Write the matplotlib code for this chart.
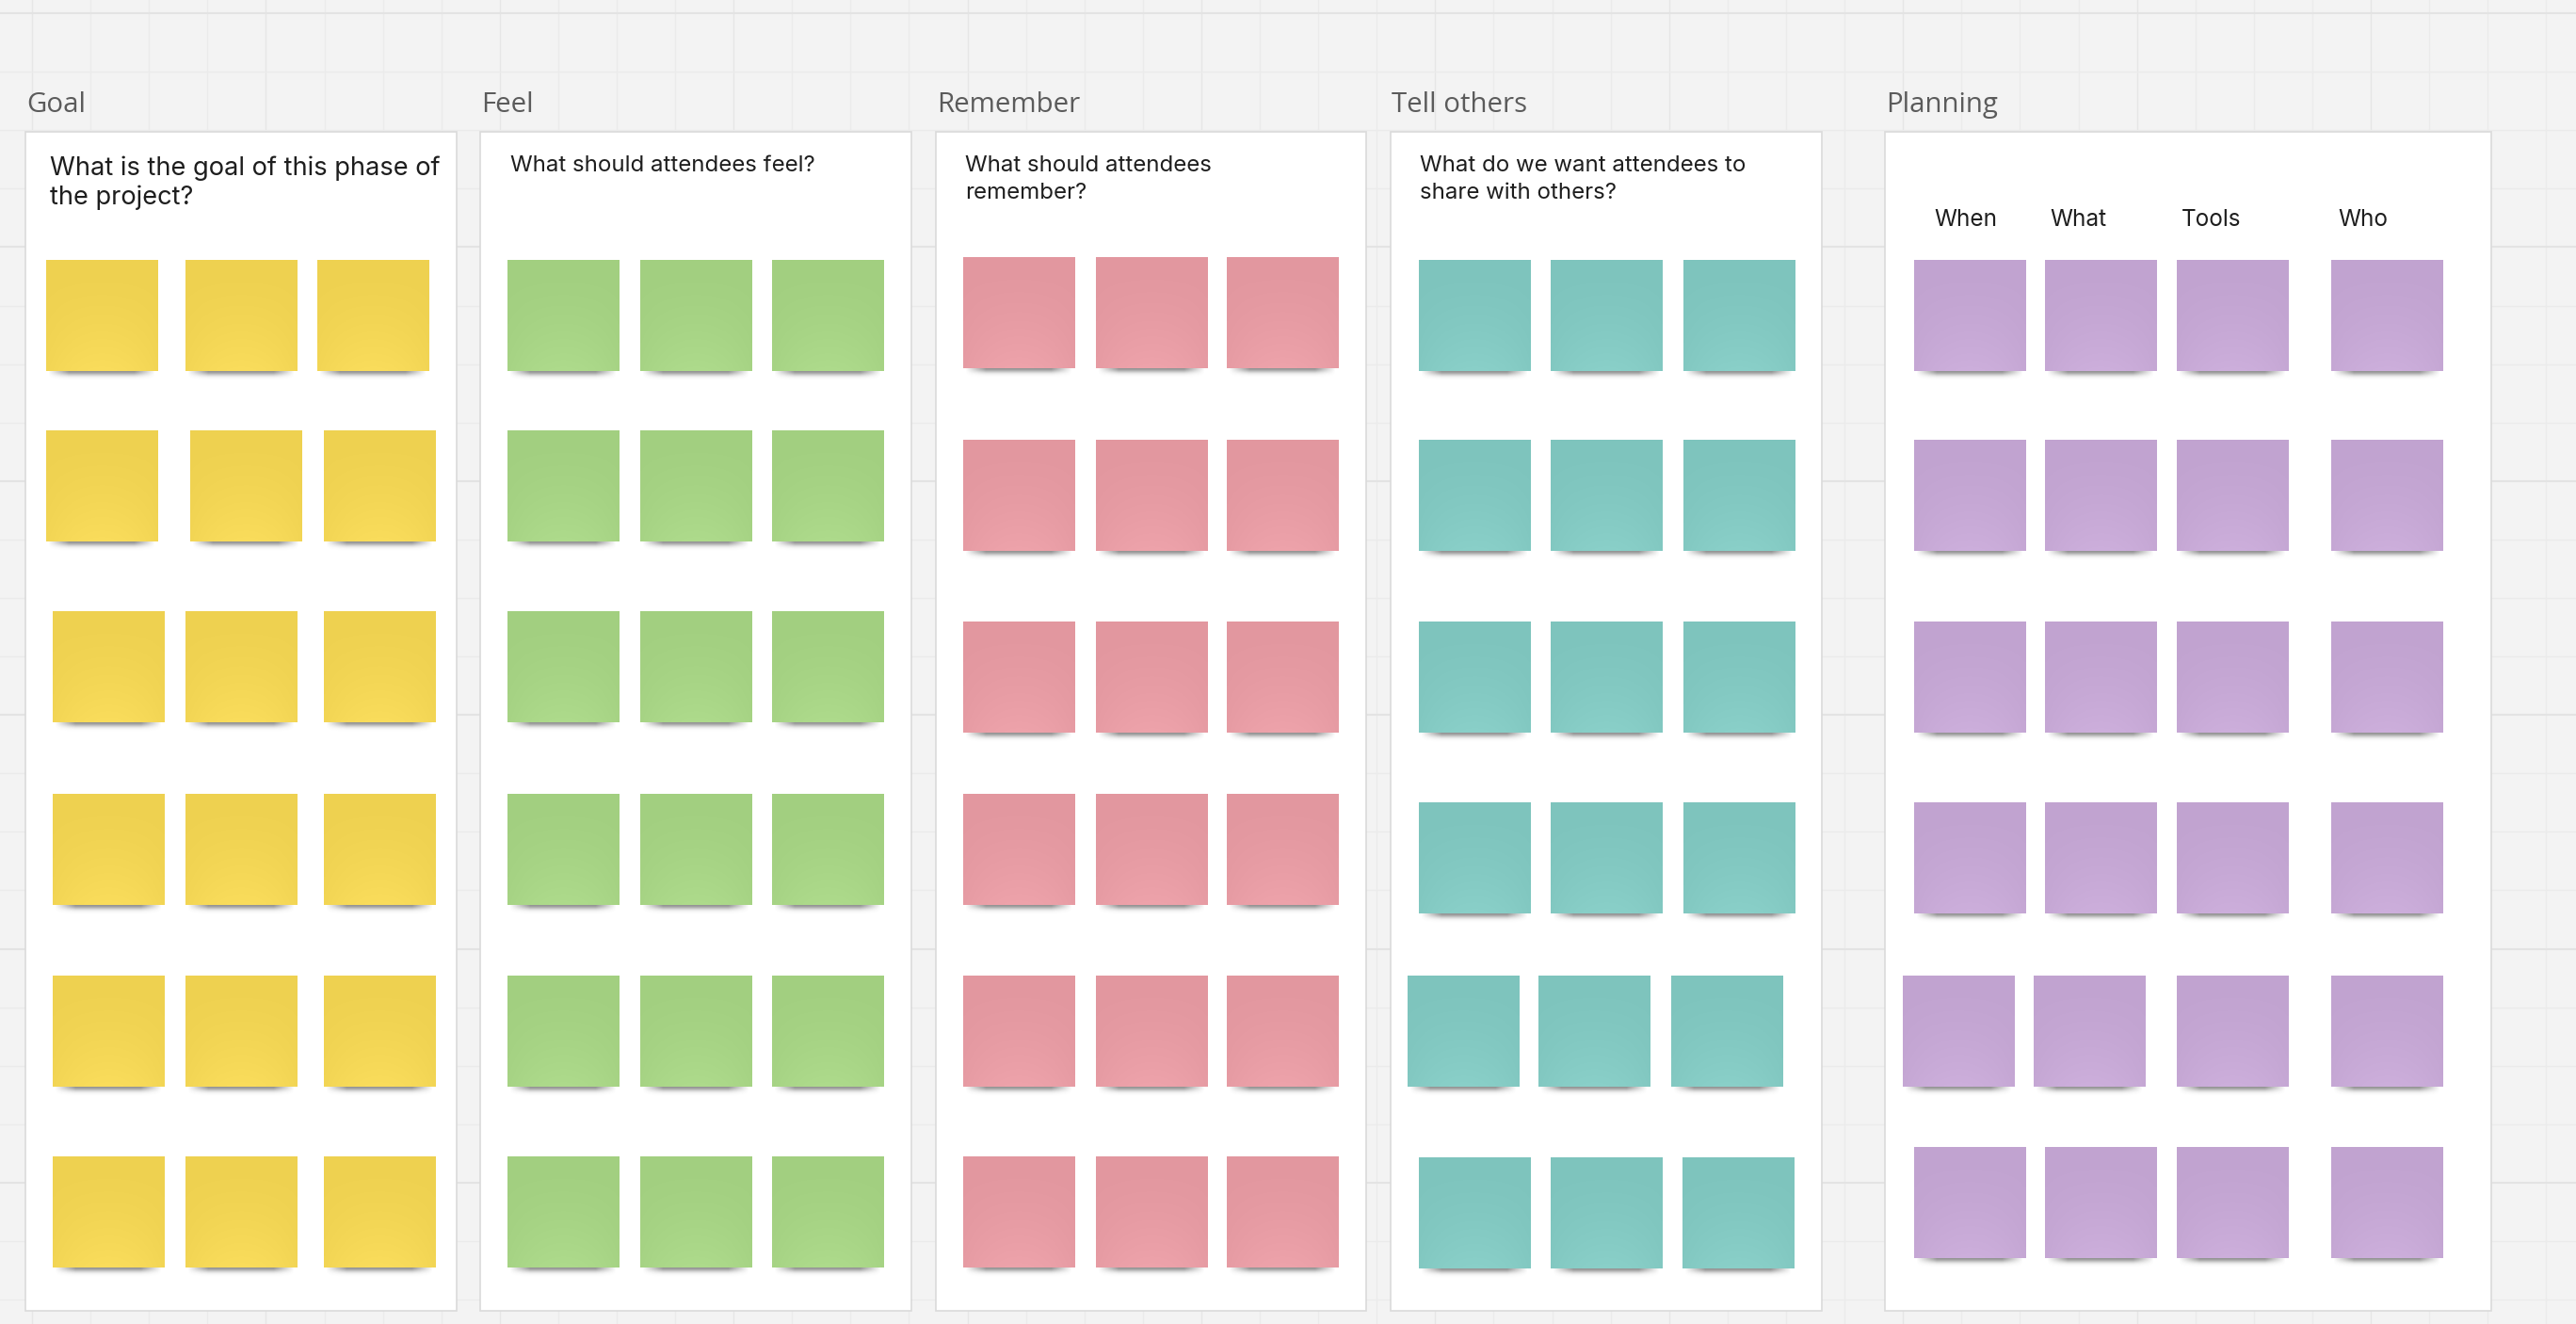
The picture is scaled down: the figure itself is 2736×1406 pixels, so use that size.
import numpy as np
import matplotlib
matplotlib.use("Agg")
import matplotlib.pyplot as plt
from matplotlib.patches import Rectangle
from matplotlib.colors import to_rgb

# ---------------- data ----------------
sections = ["Goal", "Feel", "Remember", "Tell others", "Planning"]
questions = [
    ["What is the goal of this phase of", "the project?"],
    ["What should attendees feel?"],
    ["What should attendees", "remember?"],
    ["What do we want attendees to", "share with others?"],
    [],
]
planning_headers = ["When", "What", "Tools", "Who"]
note_colors = ["#EED150", "#A2CF80", "#E2979F", "#7EC4BD", "#C1A3D0"]
notes_per_row = [3, 3, 3, 3, 4]
rows_per_section = [6, 6, 6, 6, 6]

# ---------------- layout (pixels of the board) ----------------
W, H = 2736, 1406
panel_left = [27, 510, 994, 1477, 2002]
panel_right = [485, 968, 1451, 1935, 2646]
panel_top, panel_bottom = 140, 1392
label_baseline = 119
question_x = [53, 542, 1025, 1508, None]
question_baselines = [[186, 217], [182], [182, 211], [182, 211], []]
question_size = [19.6, 17.3, 17.3, 17.3, 17.3]
header_x = [2054, 2177, 2317, 2483]
header_baseline = 240
question_font = "Inter"

row_tops = [
    [276, 457, 649, 843, 1036, 1228],
    [276, 457, 649, 843, 1036, 1228],
    [273, 467, 660, 843, 1036, 1228],
    [276, 467, 660, 852, 1036, 1229],
    [276, 467, 660, 852, 1036, 1218],
]
col_lefts = [
    [[49, 197, 337], [49, 202, 344], [56, 197, 344], [56, 197, 344], [56, 197, 344], [56, 197, 344]],
    [[539, 680, 820]] * 6,
    [[1023, 1164, 1303]] * 6,
    [[1507, 1647, 1788]] * 4 + [[1495, 1634, 1775], [1507, 1647, 1787]],
    [[2033, 2172, 2312, 2476]] * 4 + [[2021, 2160, 2312, 2476], [2033, 2172, 2312, 2476]],
]
note_w, note_h = 119, 118

# ---------------- figure ----------------
fig = plt.figure(figsize=(W / 100, H / 100), dpi=100)
fig.patch.set_facecolor("#f3f3f3")
ax = fig.add_axes([0, 0, 1, 1])
ax.set_xlim(0, W)
ax.set_ylim(H, 0)
ax.axis("off")
ax.set_facecolor("#f3f3f3")

# board grid
for i, x in enumerate(np.arange(34, W, 62.1)):
    ax.axvline(x, color="#e6e6e6" if i % 4 == 0 else "#ebebeb", lw=1.0, zorder=0)
for i, y in enumerate(np.arange(14, H, 62.1)):
    ax.axhline(y, color="#e3e3e3" if i % 4 == 0 else "#ebebeb", lw=1.0 if i % 4 else 1.5, zorder=0)

# shadow image (RGBA)
sh_h, sh_w = 18, 120
yy = np.arange(sh_h)[:, None]
xx = np.arange(sh_w)[None, :]
alpha_v = np.exp(-((yy - 2.5) / 4.5) ** 2)
alpha_h = np.clip(xx / 22.0, 0, 1) * np.clip((sh_w - 6 - xx) / 22.0, 0, 1)
shadow = np.zeros((sh_h, sh_w, 4))
shadow[..., :3] = 0.30
shadow[..., 3] = 0.6 * alpha_v * alpha_h


def note_image(color):
    base = np.array(to_rgb(color))
    light = np.clip(base + 0.045, 0, 1)
    gy = np.linspace(0, 1, 40)[:, None]
    gx = np.linspace(-1, 1, 40)[None, :]
    t = np.clip(gy ** 1.5 * (1 - 0.6 * gx ** 2), 0, 1)
    img = base[None, None, :] * (1 - t[..., None]) + light[None, None, :] * t[..., None]
    return img


for s, name in enumerate(sections):
    L, R = panel_left[s], panel_right[s]
    # panel
    ax.add_patch(Rectangle((L, panel_top), R - L, panel_bottom - panel_top,
                           facecolor="white", edgecolor="#dadada", lw=1.2, zorder=1))
    # section label
    ax.text(L + 1, label_baseline, name, fontsize=21.2, family="Open Sans",
            color="#5b5b5b", va="baseline", ha="left", zorder=3)
    # question
    for line, yb in zip(questions[s], question_baselines[s]):
        ax.text(question_x[s], yb, line, fontsize=question_size[s], family=question_font,
                color="#1e1e1e", va="baseline", ha="left", zorder=3)
    # notes
    img = note_image(note_colors[s])
    for r in range(rows_per_section[s]):
        top = row_tops[s][r]
        for c in range(notes_per_row[s]):
            left = col_lefts[s][r][c]
            ax.imshow(shadow, extent=(left + 2, left + note_w + 2, top + note_h + sh_h - 3, top + note_h - 3),
                      interpolation="bilinear", zorder=4, aspect="auto")
            ax.imshow(img, extent=(left, left + note_w, top + note_h, top),
                      interpolation="bilinear", zorder=5, aspect="auto")

# planning column headers
for hx, htxt in zip(header_x, planning_headers):
    ax.text(hx, header_baseline, htxt, fontsize=17.5, family=question_font, color="#1e1e1e",
            va="baseline", ha="left", zorder=3)

ax.set_xlim(0, W)
ax.set_ylim(H, 0)
fig.savefig("out.png", dpi=100, facecolor=fig.get_facecolor())
